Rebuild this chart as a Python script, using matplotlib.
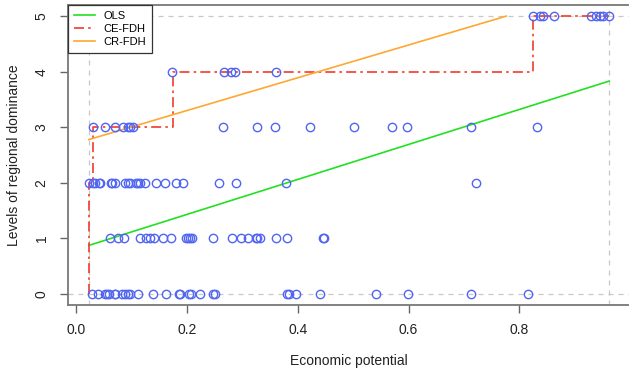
import matplotlib
matplotlib.use("Agg")
import matplotlib.pyplot as plt
import numpy as np

plt.rcParams['font.family'] = ['Liberation Sans', 'DejaVu Sans']

# observations: economic potential for each level of regional dominance
x_level0 = [0.028, 0.039, 0.052, 0.055, 0.059, 0.070, 0.071, 0.083, 0.089, 0.094,
            0.097, 0.111, 0.139, 0.163, 0.186, 0.188, 0.203, 0.207, 0.223, 0.247,
            0.250, 0.380, 0.384, 0.396, 0.440, 0.541, 0.599, 0.713, 0.815]
x_level1 = [0.061, 0.076, 0.087, 0.115, 0.127, 0.133, 0.141, 0.156, 0.171, 0.199,
            0.202, 0.205, 0.209, 0.247, 0.282, 0.297, 0.310, 0.324, 0.327, 0.332,
            0.360, 0.381, 0.446, 0.448]
x_level2 = [0.023, 0.031, 0.035, 0.041, 0.043, 0.063, 0.064, 0.071, 0.089, 0.094,
            0.097, 0.109, 0.112, 0.115, 0.124, 0.145, 0.160, 0.181, 0.193, 0.258,
            0.289, 0.379, 0.721]
x_level3 = [0.031, 0.052, 0.070, 0.084, 0.094, 0.098, 0.102, 0.265, 0.327, 0.359,
            0.422, 0.502, 0.570, 0.597, 0.713, 0.832]
x_level4 = [0.174, 0.267, 0.280, 0.286, 0.360]
x_level5 = [0.825, 0.837, 0.843, 0.863, 0.930, 0.939, 0.946, 0.951, 0.962]
levels = [x_level0, x_level1, x_level2, x_level3, x_level4, x_level5]

# fitted lines
ols_coef = (0.80, 3.15)      # intercept, slope
crfdh_coef = (2.71, 2.95)
ce_fdh_x = [0.023, 0.023, 0.031, 0.031, 0.175, 0.175, 0.825, 0.825, 0.962]
ce_fdh_y = [0, 2, 2, 3, 3, 4, 4, 5, 5]

xs = np.concatenate([np.array(v) for v in levels])
ys = np.concatenate([np.full(len(v), i) for i, v in enumerate(levels)])
xmin, xmax = xs.min(), xs.max()
ymin, ymax = 0, 5

fig = plt.figure(figsize=(6.29, 3.76), dpi=100)
ax = fig.add_axes([68 / 629, 71 / 376, 562 / 629, 300 / 376])

dash_col = '#c8c8c8'
ax.axvline(xmin, color=dash_col, ls=(0, (4, 4)), lw=0.9, zorder=1)
ax.axvline(xmax, color=dash_col, ls=(0, (4, 4)), lw=0.9, zorder=1)
ax.axhline(ymin, color=dash_col, ls=(0, (4, 4)), lw=0.9, zorder=1)
ax.axhline(ymax, color=dash_col, ls=(0, (4, 4)), lw=0.9, zorder=1)

ax.plot(xs, ys, 'o', mfc='none', mec='#5066f2', ms=6, mew=1.0, zorder=3)

lx = np.array([xmin, xmax])
ax.plot(lx, ols_coef[0] + ols_coef[1] * lx, color='#22e022', lw=1.2, label='OLS', zorder=2)
ax.plot(ce_fdh_x, ce_fdh_y, color='#f23a2a', lw=1.2, ls=(0, (6, 2.5, 1.5, 2.5)),
        label='CE-FDH', zorder=2)
cx = np.array([xmin, (ymax - crfdh_coef[0]) / crfdh_coef[1]])
ax.plot(cx, crfdh_coef[0] + crfdh_coef[1] * cx, color='#ffa733', lw=1.2, label='CR-FDH', zorder=2)

pad_x = 0.04 * (xmax - xmin)
ax.set_xlim(xmin - pad_x, xmax + pad_x)
ax.set_ylim(ymin - 0.2, ymax + 0.2)
ax.set_xticks([0.0, 0.2, 0.4, 0.6, 0.8])
ax.set_xticklabels(['0.0', '0.2', '0.4', '0.6', '0.8'])
ax.set_yticks([0, 1, 2, 3, 4, 5])
ax.tick_params(axis='both', direction='out', length=6, width=1.0, color='#666666',
               labelsize=10, labelcolor='#222222')
ax.tick_params(axis='x', pad=7)
ax.tick_params(axis='y', labelrotation=90, pad=8)
for lab in ax.get_yticklabels():
    lab.set_va('center')

for sp in ax.spines.values():
    sp.set_color('#777777')
    sp.set_linewidth(1.3)

ax.set_xlabel('Economic potential', fontsize=10, color='#222222', labelpad=12)
ax.set_ylabel('Levels of regional dominance', fontsize=10, color='#222222', labelpad=10)

leg = ax.legend(loc='upper left', borderaxespad=0, fancybox=False, framealpha=1,
                edgecolor='#333333', fontsize=8, handlelength=1.9, borderpad=0.5,
                labelspacing=0.3, handletextpad=0.8)
leg.get_frame().set_linewidth(0.9)

fig.savefig('out.png', dpi=100)
